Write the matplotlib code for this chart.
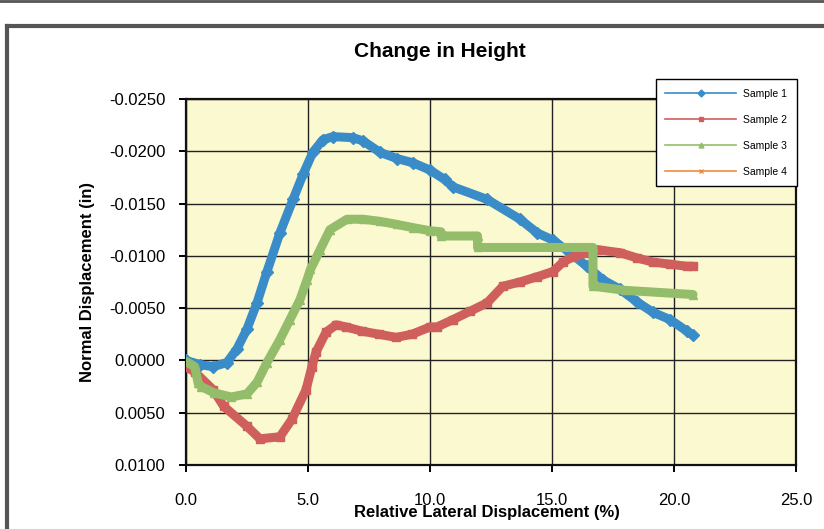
import numpy as np
import matplotlib
matplotlib.use('Agg')
from matplotlib import pyplot as plt
from matplotlib.lines import Line2D

plt.rcParams['font.family'] = ['Liberation Sans', 'DejaVu Sans']

# Sample 1 (blue)
s1_x = [0.0, 0.57, 1.11, 1.68, 2.09, 2.5, 2.91, 3.32, 3.85, 4.39, 4.8, 5.2, 5.61, 6.02,
        6.84, 7.25, 7.95, 8.65, 9.3, 10.0, 10.6, 10.94, 12.34, 13.69, 14.39, 15.04,
        15.74, 16.43, 17.09, 17.79, 18.48, 19.14, 19.84, 20.53, 20.78]
s1_y = [0.0, 0.0004, 0.0006, 0.0002, -0.0011, -0.0030, -0.0055, -0.0085, -0.0122, -0.0154,
        -0.0178, -0.0199, -0.0211, -0.0214, -0.0213, -0.0210, -0.0199, -0.0193, -0.0189,
        -0.0182, -0.0173, -0.0166, -0.0154, -0.0135, -0.0122, -0.0115, -0.0103, -0.0090,
        -0.0077, -0.0068, -0.0056, -0.0046, -0.0039, -0.0028, -0.0024]

# Sample 2 (red)
s2_x = [0.0, 0.36, 1.11, 1.55, 2.5, 3.03, 3.85, 4.35, 4.92, 5.16, 5.33, 5.74, 6.15, 6.56,
        7.21, 7.91, 8.61, 9.26, 10.0, 10.29, 10.94, 11.64, 12.34, 12.99, 13.69, 14.39,
        15.04, 15.45, 15.86, 16.43, 16.84, 17.79, 18.48, 19.14, 19.84, 20.53, 20.78]
s2_y = [0.0006, 0.0011, 0.0028, 0.0044, 0.0063, 0.0075, 0.0073, 0.0056, 0.0028, 0.0006,
        -0.0008, -0.0027, -0.0034, -0.0032, -0.0028, -0.0025, -0.0022, -0.0025, -0.0032,
        -0.0032, -0.0039, -0.0047, -0.0055, -0.0071, -0.0075, -0.0080, -0.0085, -0.0094,
        -0.0099, -0.0103, -0.0106, -0.0103, -0.0098, -0.0094, -0.0092, -0.0090, -0.0090]

# Sample 3 (green)
s3_x = [0.0, 0.36, 0.5, 0.62, 1.15, 1.86, 2.5, 2.91, 3.32, 3.85, 4.26, 4.67, 4.96, 5.1,
        5.5, 5.9, 6.6, 7.25, 7.95, 8.65, 9.3, 10.0, 10.45, 10.45, 11.95, 11.95, 16.68,
        16.68, 18.0, 20.78]
s3_y = [0.0001, 0.0006, 0.0022, 0.0025, 0.0031, 0.0035, 0.0032, 0.0021, 0.0002, -0.0020,
        -0.0039, -0.0058, -0.0077, -0.0087, -0.0106, -0.0125, -0.0135, -0.0135, -0.0133,
        -0.0130, -0.0127, -0.0124, -0.0123, -0.0119, -0.0119, -0.0108, -0.0108,
        -0.0071, -0.0067, -0.0063]

# Sample 4 (orange) - no points drawn on the chart
s4_x = []
s4_y = []

y_ticks = [-0.025, -0.020, -0.015, -0.010, -0.005, 0.0, 0.005, 0.010]
y_labels = ['-0.0250', '-0.0200', '-0.0150', '-0.0100', '-0.0050', '0.0000', '0.0050', '0.0100']
x_ticks = [0, 5, 10, 15, 20, 25]
x_labels = ['0.0', '5.0', '10.0', '15.0', '20.0', '25.0']

fig = plt.figure(figsize=(8.24, 5.29), dpi=100)
fig.patch.set_facecolor('white')
ax = fig.add_axes([0.2257, 0.121, 0.7403, 0.6919])
ax.set_facecolor('#fbf9cf')

series = [
    (s1_x, s1_y, '#3a8cc9', 'D', 'Sample 1'),
    (s2_x, s2_y, '#cf5f5c', 's', 'Sample 2'),
    (s3_x, s3_y, '#93bd6a', '^', 'Sample 3'),
    (s4_x, s4_y, '#f28a3e', 'x', 'Sample 4'),
]
for xs, ys, c, m, lab in series:
    ax.plot(xs, ys, color=c, linewidth=6.5, solid_joinstyle='round',
            solid_capstyle='round', zorder=3)
    ax.plot(xs, ys, linestyle='none', marker=m, markersize=6, color=c, zorder=3)

ax.set_xlim(0, 25)
ax.set_ylim(0.010, -0.025)
ax.set_xticks(x_ticks)
ax.set_xticklabels(x_labels)
ax.set_yticks(y_ticks)
ax.set_yticklabels(y_labels)
ax.grid(True, color='#222222', linewidth=1.0)
ax.set_axisbelow(True)
for sp in ax.spines.values():
    sp.set_linewidth(1.6)
    sp.set_color('#111111')
ax.tick_params(axis='both', labelsize=12, length=5, width=1.4, direction='out')
ax.tick_params(axis='x', pad=15)
ax.tick_params(axis='y', pad=10)

ax.set_ylabel('Normal Displacement (in)', fontsize=12, fontweight='bold', labelpad=10)
fig.text(0.591, 0.032, 'Relative Lateral Displacement (%)', ha='center', va='center',
         fontsize=12, fontweight='bold')
fig.text(0.534, 0.903, 'Change in Height', ha='center', va='center',
         fontsize=15, fontweight='bold')

handles = [Line2D([], [], color=c, linewidth=1.2, marker=m, markersize=3.5)
           for xs, ys, c, m, lab in series]
leg = fig.legend(handles, [s[4] for s in series], loc='upper left',
                 bbox_to_anchor=(0.792, 0.856), fontsize=7.5, frameon=True,
                 fancybox=False, framealpha=1, edgecolor='black', handlelength=6.8,
                 labelspacing=1.55, borderpad=0.9, handletextpad=0.7, borderaxespad=0.3)
leg.get_frame().set_linewidth(1.0)

# scanned page frame
fig.add_artist(Line2D([0.008, 0.008], [0, 0.95], color='#555555', linewidth=3))
fig.add_artist(Line2D([0.008, 1.0], [0.95, 0.95], color='#555555', linewidth=3))
fig.add_artist(Line2D([0, 1.0], [0.998, 0.998], color='#555555', linewidth=2))

fig.savefig('out.png', dpi=100)
